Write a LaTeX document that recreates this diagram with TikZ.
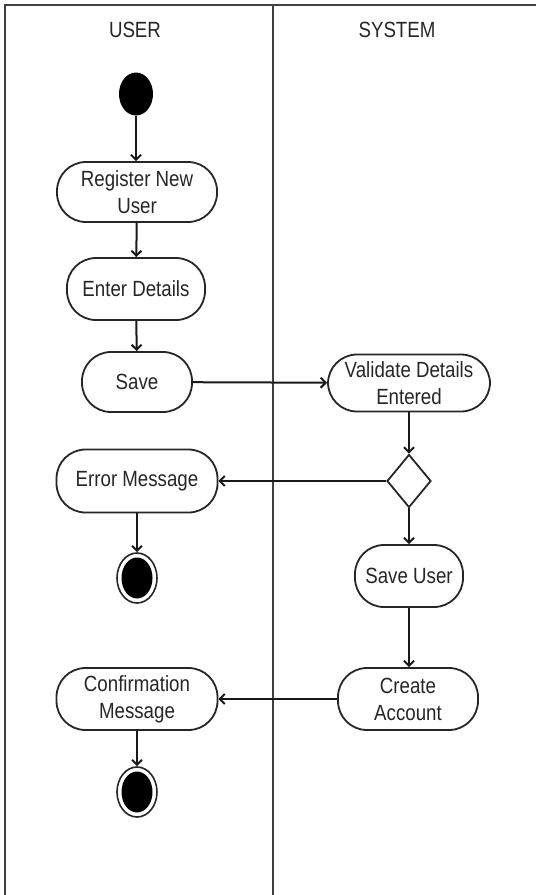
\documentclass[tikz,border=0pt]{standalone}
\usepackage{fontspec}
\setmainfont{Liberation Sans}[FakeStretch=0.85]
\usetikzlibrary{shapes.geometric,arrows.meta}
\begin{document}
\begin{tikzpicture}[x=1pt,y=-1pt,
  frame/.style={draw=black!75, line width=2.6pt},
  act/.style={draw=black!85, line width=1.8pt, rounded corners=29pt, fill=white,
    align=center, inner sep=0pt, text=black!85,
    font=\fontsize{22}{27}\selectfont},
  lane/.style={font=\fontsize{22}{24}\selectfont, text=black!85},
  flow/.style={draw=black!90, line width=2pt, -{Straight Barb[length=5pt,width=10pt]}},
  startnode/.style={ellipse, fill=black, minimum width=34pt, minimum height=43pt, inner sep=0pt},
  endouter/.style={ellipse, draw=black!85, line width=1.6pt, fill=white, minimum width=40pt, minimum height=50pt, inner sep=0pt},
  endinner/.style={ellipse, fill=black, minimum width=31pt, minimum height=41pt, inner sep=0pt},
  decision/.style={diamond, draw=black!85, line width=1.8pt, fill=white, minimum width=44pt, minimum height=53pt, inner sep=0pt, aspect=0.83}
]
\useasboundingbox (0,0) rectangle (536,895);
\draw[frame] (5,895) -- (5,5) -- (536,5);
\draw[frame] (273,5) -- (273,895);
\node[lane] (user) at (135,30) {USER};
\node[lane] (system) at (397,30) {SYSTEM};

\node[startnode] (start) at (136,94) {};
\node[act, minimum width=160pt, minimum height=60pt] (reg) at (137,192) {Register New\\User};
\node[act, minimum width=138pt, minimum height=62pt] (enter) at (136,289) {Enter Details};
\node[act, minimum width=110pt, minimum height=60pt] (save) at (137,382) {Save};
\node[act, minimum width=162pt, minimum height=57pt] (valid) at (409,383) {Validate Details\\Entered};
\node[decision] (dec) at (409,481) {};
\node[act, minimum width=161pt, minimum height=63pt] (err) at (137,481) {Error Message};
\node[endouter] (end1) at (137,578) {};
\node[endinner] (end1in) at (137,578) {};
\node[act, minimum width=108pt, minimum height=62pt] (saveuser) at (409,576) {Save User};
\node[act, minimum width=140pt, minimum height=62pt] (create) at (408,699) {Create\\Account};
\node[act, minimum width=161pt, minimum height=62pt] (conf) at (137,699) {Confirmation\\Message};
\node[endouter] (end2) at (137,792) {};
\node[endinner] (end2in) at (137,792) {};

\draw[flow] (start) -- (start |- reg.north);
\draw[flow] (reg) -- (enter);
\draw[flow] (enter) -- (save);
\draw[flow] (save) -- (valid);
\draw[flow] (valid) -- (dec);
\draw[flow] (dec) -- (err);
\draw[flow] (dec) -- (saveuser);
\draw[flow] (saveuser) -- (saveuser |- create.north);
\draw[flow] (create) -- (conf);
\draw[flow] (err) -- (end1);
\draw[flow] (conf) -- (end2);
\end{tikzpicture}
\end{document}
